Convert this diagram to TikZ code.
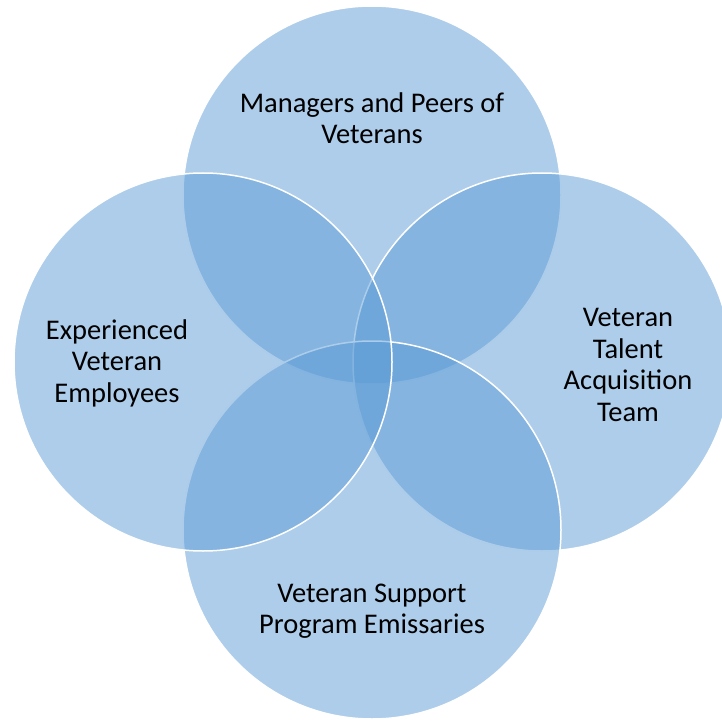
\documentclass[tikz,border=0pt]{standalone}
\usepackage{fontspec}
\setmainfont{Carlito}
\definecolor{venn}{RGB}{91,155,213}
\tikzset{
  vcirc/.style={circle, minimum size=378pt, inner sep=0pt, fill=venn, fill opacity=0.5, draw=white, line width=1.5pt},
  vlabel/.style={align=center, text=black, font=\fontsize{28.5}{31.5}\selectfont, inner sep=0pt}
}
\begin{document}
\begin{tikzpicture}[x=1pt, y=-1pt]
\useasboundingbox (0,0) rectangle (722,722);
\node[vcirc] (top) at (372,195) {};
\node[vcirc] (right) at (542,362) {};
\node[vcirc] (bottom) at (372,530) {};
\node[vcirc] (left) at (203,362) {};
\node[vlabel] (ttop) at (372,118) {Managers and Peers of\\Veterans};
\node[vlabel] (tleft) at (117,363) {Experienced\\Veteran\\Employees};
\node[vlabel] (tright) at (628,365) {Veteran\\Talent\\Acquisition\\Team};
\node[vlabel] (tbottom) at (372,611) {Veteran Support\\Program Emissaries};
\end{tikzpicture}
\end{document}
